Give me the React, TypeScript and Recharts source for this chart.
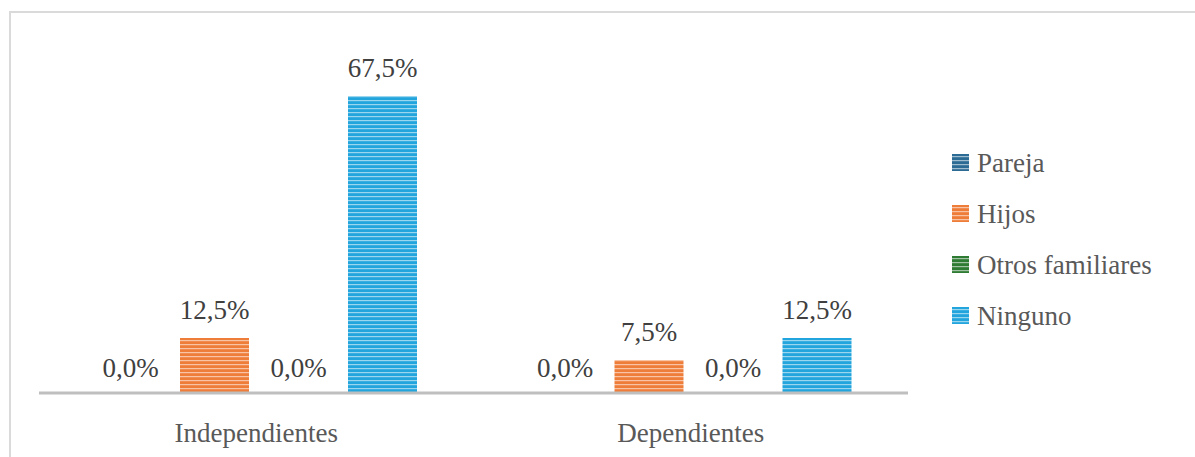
import { BarChart, Bar, XAxis, YAxis } from 'recharts';

const categories = ['Independientes', 'Dependientes'];
const pareja = [0.0, 0.0];
const hijos = [12.5, 7.5];
const otrosFamiliares = [0.0, 0.0];
const ninguno = [67.5, 12.5];

const series = [
  { key: 'pareja', name: 'Pareja', color: '#2c6c94' },
  { key: 'hijos', name: 'Hijos', color: '#ef7d3a' },
  { key: 'otros', name: 'Otros familiares', color: '#2e7b33' },
  { key: 'ninguno', name: 'Ninguno', color: '#22a4dc' },
];

const data = categories.map((c, i) => ({
  category: c,
  pareja: pareja[i],
  hijos: hijos[i],
  otros: otrosFamiliares[i],
  ninguno: ninguno[i],
}));

const FONT = '"Liberation Serif"';

const fmt = (v: unknown) => Number(v).toFixed(1).replace('.', ',') + '%';

function SerifText({ size, fill, anchor = 'middle', children }: any) {
  return (
    <text textAnchor={anchor} fontFamily={FONT} fontSize={size} fill={fill}>
      {children}
    </text>
  );
}

function BarLabel(props: any) {
  const { x, y, width, value } = props;
  const v = Number(value);
  const cx = Number(x) + Number(width) / 2;
  const cy = Number(y) - (v === 0 ? 15 : 19);
  return (
    <g transform={`translate(${cx},${cy})`}>
      <SerifText size={27} fill="#404040">{fmt(value)}</SerifText>
    </g>
  );
}

function CategoryTick(props: any) {
  const { x, y, payload } = props;
  return (
    <g transform={`translate(${x},${Number(y) + 43})`}>
      <SerifText size={27} fill="#595959">{payload.value}</SerifText>
    </g>
  );
}

function LegendBox() {
  return (
    <svg width={255} height={220} style={{ position: 'absolute', left: 940, top: 130 }}>
      <defs>
        {series.map((s) => (
          <pattern key={s.key} id={`lg-stripe-${s.key}`} width={4} height={4} patternUnits="userSpaceOnUse">
            <rect width={4} height={4} fill={s.color} />
            <rect y={0} width={4} height={1.2} fill="#ffffff" fillOpacity={0.55} />
          </pattern>
        ))}
      </defs>
      {series.map((s, i) => (
        <g key={s.key} transform={`translate(0,${42 + i * 51})`}>
          <rect x={12} y={-18} width={17} height={17} fill={`url(#lg-stripe-${s.key})`} />
          <g transform="translate(37,0)">
            <SerifText size={27} fill="#595959" anchor="start">{s.name}</SerifText>
          </g>
        </g>
      ))}
    </svg>
  );
}

export default function App() {
  return (
    <div style={{ position: 'absolute', left: 0, top: 0, width: 1195, height: 457, background: '#fff' }}>
      <div
        style={{
          position: 'absolute',
          left: 9,
          top: 11,
          width: 1186,
          height: 446,
          borderTop: '2px solid #dadada',
          borderLeft: '2px solid #dadada',
          boxSizing: 'border-box',
        }}
      />
      <div style={{ position: 'absolute', left: 0, top: 0 }}>
        <BarChart
          width={1195}
          height={457}
          data={data}
          margin={{ top: 41, right: 287, bottom: 0, left: 39 }}
          barSize={69}
          barGap={15}
        >
          <defs>
            {series.map((s) => (
              <pattern key={s.key} id={`stripe-${s.key}`} width={4} height={4} patternUnits="userSpaceOnUse">
                <rect width={4} height={4} fill={s.color} />
                <rect y={0} width={4} height={1.2} fill="#ffffff" fillOpacity={0.55} />
              </pattern>
            ))}
          </defs>
          <YAxis hide domain={[0, 80]} />
          {series.map((s) => (
            <Bar
              key={s.key}
              dataKey={s.key}
              name={s.name}
              fill={`url(#stripe-${s.key})`}
              minPointSize={(v: number) => (v === 0 ? 1 : 0)}
              isAnimationActive={false}
              label={<BarLabel />}
            />
          ))}
          <XAxis
            dataKey="category"
            height={64}
            axisLine={{ stroke: '#bfbfbf', strokeWidth: 3 }}
            tickLine={false}
            tickMargin={0}
            tick={<CategoryTick />}
          />
        </BarChart>
      </div>
      <LegendBox />
    </div>
  );
}
